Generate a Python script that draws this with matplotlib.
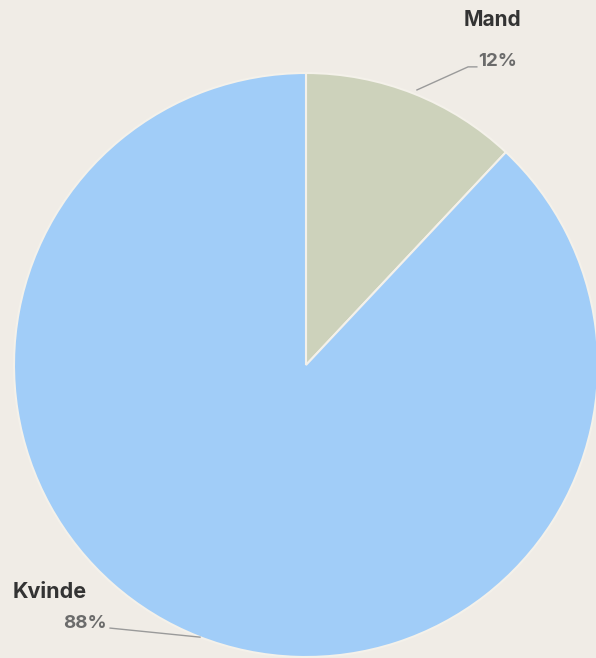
import matplotlib
matplotlib.use("Agg")
import matplotlib.pyplot as plt

labels = ["Mand", "Kvinde"]
values = [12, 88]
colors = ["#cdd2bb", "#a1cdf8"]
bg = "#f0ece6"

W, H = 596, 658
fig = plt.figure(figsize=(W / 100, H / 100), dpi=100, facecolor=bg)
cx, cy, r = 306, 365, 292
ax = fig.add_axes([(cx - r) / W, (H - cy - r) / H, 2 * r / W, 2 * r / H])
ax.set_facecolor(bg)

wedges, _ = ax.pie(values, colors=colors, startangle=90, counterclock=False,
                   radius=1, wedgeprops=dict(edgecolor="#f4f1ea", linewidth=1.5))
for w in wedges:
    w.set_clip_on(False)
ax.set_xlim(-1, 1)
ax.set_ylim(-1, 1)
ax.axis("off")

font = "Inter"
# Mand label
ax.text(0.64, 1.18, labels[0], ha="center", va="center", fontsize=15,
        fontweight="bold", color="#333333", family=font, clip_on=False)
ax.text(0.655, 1.04, f"{values[0]}%", ha="center", va="center", fontsize=13.5,
        fontweight="bold", color="#6b6b6b", family=font, clip_on=False)
ax.plot([0.38, 0.555, 0.585], [0.942, 1.021, 1.021], color="#9a9a9a", lw=1, clip_on=False)

# Kvinde label
ax.text(-0.877, -0.777, labels[1], ha="center", va="center", fontsize=15.5,
        fontweight="bold", color="#333333", family=font, clip_on=False)
ax.text(-0.757, -0.884, f"{values[1]}%", ha="center", va="center", fontsize=13.5,
        fontweight="bold", color="#6b6b6b", family=font, clip_on=False)
ax.plot([-0.671, -0.363], [-0.901, -0.932], color="#9a9a9a", lw=1, clip_on=False)

fig.savefig("out.png", dpi=100, facecolor=bg)
